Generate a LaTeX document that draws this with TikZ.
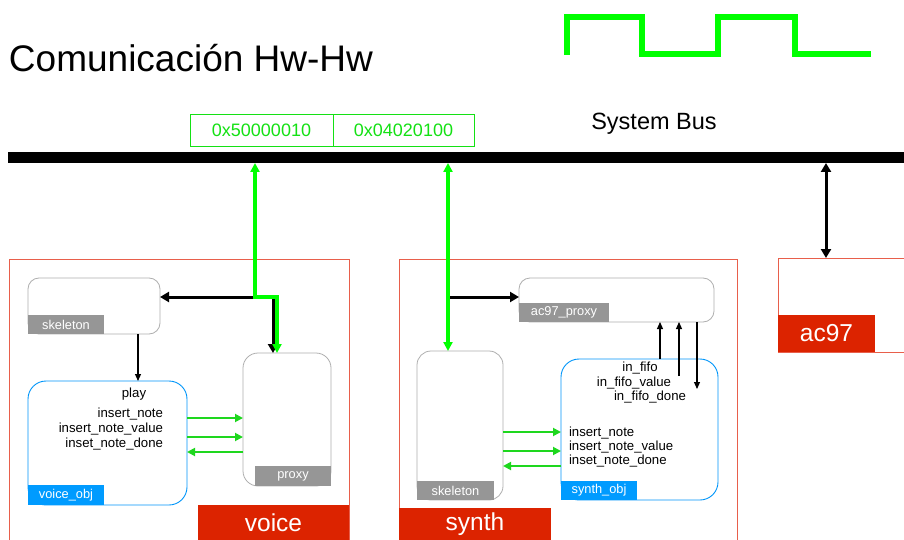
\documentclass[tikz,border=0pt]{standalone}
\usepackage{fontspec}
\setmainfont{Liberation Sans}
\usetikzlibrary{arrows.meta}
\definecolor{brightgreen}{RGB}{0,255,0}
\definecolor{linkgreen}{RGB}{30,215,30}
\definecolor{addrgreen}{RGB}{20,225,20}
\definecolor{boxred}{RGB}{220,35,0}
\definecolor{edgered}{RGB}{232,95,75}
\definecolor{objblue}{RGB}{0,150,250}
\definecolor{tagblue}{RGB}{0,155,255}
\definecolor{taggray}{RGB}{150,150,150}
\definecolor{framegray}{RGB}{175,175,175}
\tikzset{
  every node/.style={inner sep=0pt, outer sep=0pt},
  module/.style={draw=edgered, line width=0.9pt, anchor=north west},
  modtag/.style={fill=boxred, text=white, anchor=north west, font=\fontsize{24.5}{26}\selectfont},
  compbox/.style={draw=framegray, line width=0.8pt, rounded corners=11pt, anchor=north west},
  objbox/.style={draw=objblue, line width=0.9pt, rounded corners=18pt, anchor=north west},
  graytag/.style={fill=taggray, text=white, anchor=north west, font=\fontsize{12.8}{14}\selectfont},
  bluetag/.style={fill=tagblue, text=white, anchor=north west, font=\fontsize{12.8}{14}\selectfont},
  sig/.style={font=\fontsize{13.2}{14}\selectfont},
  addr/.style={draw=addrgreen, line width=0.8pt, text=addrgreen, minimum height=32pt, anchor=north west, font=\fontsize{18}{20}\selectfont},
  busline/.style={line width=4pt, draw=brightgreen, {Triangle[length=9pt,width=9pt]}-{Triangle[length=9pt,width=9pt]}},
  ctrl/.style={line width=3pt, -{Triangle[length=9pt,width=10pt]}},
  ctrlboth/.style={line width=3pt, {Triangle[length=9pt,width=10pt]}-{Triangle[length=9pt,width=10pt]}},
  wire/.style={line width=1.1pt, -{Triangle[length=7pt,width=6pt]}},
  link/.style={line width=1.8pt, draw=linkgreen, -{Triangle[length=8pt,width=8pt]}}
}
\begin{document}
\begin{tikzpicture}[x=1pt,y=-1pt]
\useasboundingbox[fill=white] (0,0) rectangle (904,540);

% title and clock waveform
\node[anchor=base west, font=\fontsize{37}{40}\selectfont] (title) at (9,72) {Comunicación Hw-Hw};
\draw[brightgreen, line width=6.5pt, line join=miter] (567,55) -- (567,17) -- (642,17) -- (642,54)
  -- (718,54) -- (718,17) -- (795,17) -- (795,54) -- (871,54);

% system bus with register addresses
\node[fill=black, minimum width=896pt, minimum height=11pt, anchor=north west] (bus) at (8,152) {};
\node[addr, minimum width=143pt] (addrA) at (190,114) {0x50000010};
\node[addr, minimum width=141pt] (addrB) at (333,114) {0x04020100};
\node[font=\fontsize{23.5}{25}\selectfont] (busname) at (654,124) {System Bus};

% voice module
\node[module, minimum width=340pt, minimum height=290pt] (voice) at (9,259) {};
\node[modtag, minimum width=151pt, minimum height=36pt] (voicetag) at (198,505) {voice};
\node[compbox, minimum width=132pt, minimum height=56pt] (vskel) at (28,278) {};
\node[graytag, minimum width=76pt, minimum height=19pt] (vskeltag) at (28,315) {skeleton};
\node[objbox, minimum width=159pt, minimum height=124pt] (vobj) at (28,381) {};
\node[bluetag, minimum width=76pt, minimum height=20pt] (vobjtag) at (28,485) {voice\_obj};
\node[compbox, rounded corners=15pt, minimum width=88pt, minimum height=133pt] (vprox) at (243,353) {};
\node[graytag, minimum width=76pt, minimum height=20pt] (vproxtag) at (255,466) {proxy};
\node[sig, anchor=base] (play) at (134,397) {play};
\node[sig, anchor=base east] (vs1) at (163,417) {insert\_note};
\node[sig, anchor=base east] (vs2) at (163,432) {insert\_note\_value};
\node[sig, anchor=base east] (vs3) at (163,447) {inset\_note\_done};

% synth module
\node[module, minimum width=338pt, minimum height=290pt] (synth) at (399,259) {};
\node[modtag, minimum width=152pt, minimum height=33pt] (synthtag) at (399,508) {synth};
\node[compbox, minimum width=195pt, minimum height=44pt] (aprox) at (519,278) {};
\node[graytag, minimum width=90pt, minimum height=19pt] (aproxtag) at (519,303) {ac97\_proxy};
\node[compbox, rounded corners=14pt, minimum width=86pt, minimum height=149pt] (sskel) at (417,351) {};
\node[graytag, minimum width=77pt, minimum height=19pt] (sskeltag) at (417,481) {skeleton};
\node[objbox, minimum width=157pt, minimum height=141pt] (sobj) at (561,359) {};
\node[bluetag, minimum width=76pt, minimum height=19pt] (sobjtag) at (561,481) {synth\_obj};
\node[sig, anchor=base] (f1) at (640,371) {in\_fifo};
\node[sig, anchor=base] (f2) at (634,386) {in\_fifo\_value};
\node[sig, anchor=base] (f3) at (650,400) {in\_fifo\_done};
\node[sig, anchor=base west] (ss1) at (569,436) {insert\_note};
\node[sig, anchor=base west] (ss2) at (569,450) {insert\_note\_value};
\node[sig, anchor=base west] (ss3) at (569,464) {inset\_note\_done};

% ac97 module
\node[module, minimum width=140pt, minimum height=94pt] (ac97) at (778,258) {};
\node[modtag, minimum width=97pt, minimum height=37pt] (ac97tag) at (778,315) {ac97};

% reference columns and rows
\coordinate (gA) at (255,0);
\coordinate (gAd) at (277,0);
\coordinate (bA) at (273,0);
\coordinate (gB) at (448,0);
\coordinate (bC) at (826,0);
\coordinate (rowJ) at (0,297);
\coordinate (vrow1) at (0,418);
\coordinate (vrow2) at (0,437);
\coordinate (vrow3) at (0,452);
\coordinate (srow1) at (0,432);
\coordinate (srow2) at (0,451);
\coordinate (srow3) at (0,466);
\coordinate (fx1) at (660,0);
\coordinate (fx2) at (679,0);
\coordinate (fx3) at (697,0);
\coordinate (fy1) at (0,359);
\coordinate (fy2) at (0,376);
\coordinate (fy3) at (0,389);

% control paths inside voice
\draw[ctrl] (gA |- rowJ) -- (vskel.east |- rowJ);
\draw[ctrl] (rowJ -| bA) -- (vprox.north -| bA);
\draw[busline] (bus.south -| gA) -- (gA |- rowJ) -| (vprox.north -| gAd);
\draw[wire] (vskel.south -| vskeltag.east) ++(34,0) coordinate (vsk) -- (vsk |- vobj.north);
\draw[link] (vobj.east |- vrow1) -- (vprox.west |- vrow1);
\draw[link] (vobj.east |- vrow2) -- (vprox.west |- vrow2);
\draw[link] (vprox.west |- vrow3) -- (vobj.east |- vrow3);

% control paths inside synth
\draw[ctrl] (gB |- rowJ) -- (aprox.west |- rowJ);
\draw[busline] (bus.south -| gB) -- (sskel.north -| gB);
\draw[wire] (fx1 |- fy1) -- (aprox.south -| fx1);
\draw[wire] (fx2 |- fy2) -- (aprox.south -| fx2);
\draw[wire] (aprox.south -| fx3) -- (fx3 |- fy3);
\draw[link] (sskel.east |- srow1) -- (sobj.west |- srow1);
\draw[link] (sskel.east |- srow2) -- (sobj.west |- srow2);
\draw[link] (sobj.west |- srow3) -- (sskel.east |- srow3);

% ac97 attachment to the bus
\draw[ctrlboth] (bus.south -| bC) -- (ac97.north -| bC);
\end{tikzpicture}
\end{document}
